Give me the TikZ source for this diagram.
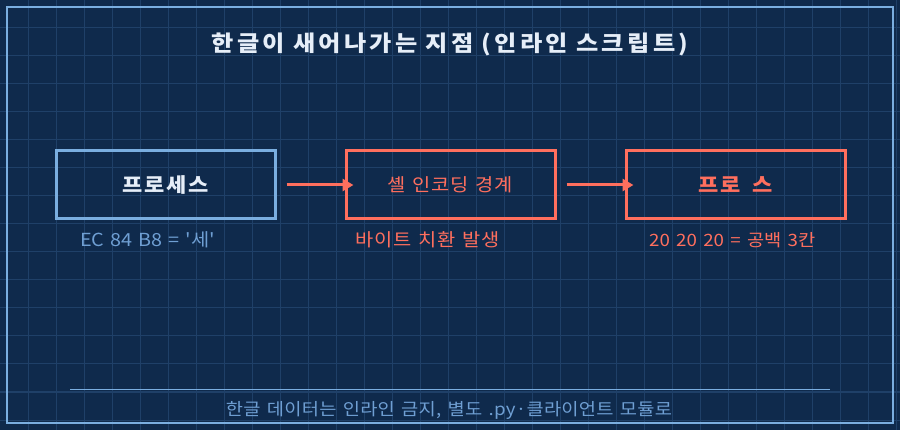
\documentclass[tikz,border=0pt]{standalone}
\usepackage{fontspec}
\setmainfont{Noto Sans CJK KR}[FakeStretch=1.1, Ligatures=TeXOff]
\usetikzlibrary{arrows.meta}
\definecolor{bg}{HTML}{0F2A4C}
\definecolor{gridc}{HTML}{1F4068}
\definecolor{frame}{HTML}{7AAEE0}
\definecolor{coral}{HTML}{FF6F5E}
\definecolor{titlec}{HTML}{E6EEF8}
\definecolor{subblue}{HTML}{6F9FD3}
\newcommand{\ls}[2]{\addfontfeatures{LetterSpace=#1}\spaceskip=#2em\relax}
\tikzset{
  boxb/.style={draw=frame, line width=3pt, minimum width=219pt, minimum height=68pt, inner sep=0pt},
  boxc/.style={draw=coral, line width=3pt, minimum width=209pt, minimum height=68pt, inner sep=0pt},
  boxd/.style={draw=coral, line width=3pt, minimum width=219pt, minimum height=68pt, inner sep=0pt},
  conn/.style={draw=coral, line width=3pt, -{Triangle[length=11pt,width=12pt]}},
  lbl/.style={inner sep=0pt}
}
\begin{document}
\begin{tikzpicture}[x=1pt,y=-1pt]
\fill[bg] (0,0) rectangle (900,430);
\useasboundingbox (0,0) rectangle (900,430);
\foreach \i in {28,56,...,896} \draw[gridc, line width=1pt] (\i,0) -- (\i,430);
\foreach \j in {28,56,...,420} \draw[gridc, line width=1pt] (0,\j) -- (900,\j);
\draw[frame, line width=2pt] (7,7) rectangle (893,423);
\node[inner sep=0pt, text=titlec, font=\fontsize{22}{26}\bfseries\selectfont\ls{15}{0.37}] (title) at (450,44) {한글이 새어나가는 지점 (인라인 스크립트)};
\node[boxb, font=\fontsize{20}{24}\bfseries\selectfont\ls{8}{0.25}, text=titlec] (p1) at (165.5,185) {프로세스};
\node[boxc, font=\fontsize{18}{22}\selectfont\ls{5}{0.37}, text=coral] (p2) at (450.5,185) {셸 인코딩 경계};
\node[boxd, font=\fontsize{20}{24}\bfseries\selectfont\ls{8}{0.25}, text=coral] (p3) at (735.5,185) {프로\hspace{12pt}스};
\draw[conn] ([xshift=10pt]p1.east) -- ([xshift=9pt]p2.west);
\draw[conn] ([xshift=10pt]p2.east) -- ([xshift=9pt]p3.west);
\node[lbl, text=subblue, anchor=west, font=\fontsize{18}{22}\selectfont\ls{0}{0.34}] (s1) at (80,240) {EC 84 B8 = '세'};
\node[lbl, text=coral, anchor=west, font=\fontsize{18}{22}\selectfont\ls{5}{0.37}] (s2) at (355,240) {바이트 치환 발생};
\node[lbl, text=coral, anchor=west, font=\fontsize{17}{21}\selectfont\ls{0}{0.37}] (s3) at (649,240) {20 20 20 = 공백 3칸};
\coordinate (la) at (70,390);
\coordinate (lb) at (830,390);
\draw[frame, line width=1pt] (la) -- (lb);
\node[lbl, text=subblue, font=\fontsize{17}{21}\selectfont\ls{1.5}{0.37}] (foot) at (449,410) {한글 데이터는 인라인 금지, 별도 .py·클라이언트 모듈로};
\end{tikzpicture}
\end{document}
